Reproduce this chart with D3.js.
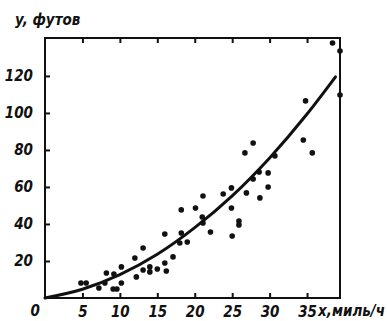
<!DOCTYPE html>
<html>
<meta charset="UTF-8">
<script src="https://d3js.org/d3.v7.min.js"></script>
<style>
  body { margin: 0; background: #fff; }
  text { font-family: "DejaVu Sans Condensed", "DejaVu Sans", sans-serif; font-style: italic; font-weight: bold; fill: #111; }
</style>
<body>
<div id="chart"></div>
<script>
// speed, miles/h
var speed = [4.8, 5.5, 7.2, 8.0, 8.2, 9.2, 9.1, 9.6, 10.2, 10.2,
             12.0, 12.2, 13.1, 13.1, 14.0, 14.0, 15.0, 16.0, 16.0, 16.2,
             17.1, 18.0, 18.2, 18.2, 19.0, 20.1, 21.0, 21.1, 21.1, 22.1,
             23.8, 24.9, 24.9, 25.0, 25.9, 25.9, 26.7, 26.9, 27.8, 27.8,
             28.6, 28.7, 29.8, 29.8, 30.7, 34.5, 35.7, 34.8, 38.4, 39.4, 39.4];
// distance, feet
var dist = [8.1, 8.1, 5.4, 8.1, 13.5, 13.0, 4.9, 4.9, 16.8, 8.1,
            21.6, 11.4, 27.0, 15.1, 16.8, 14.1, 15.7, 34.6, 18.9, 14.6,
            22.2, 29.7, 35.1, 47.6, 30.3, 48.6, 43.8, 40.5, 55.1, 35.7,
            56.2, 59.5, 48.6, 33.5, 41.6, 39.5, 78.4, 56.8, 83.8, 64.3,
            68.1, 54.1, 67.6, 60.0, 76.8, 85.4, 78.4, 106.5, 137.8, 133.5, 109.7];

// fitted curve
var curveX = [0, 5, 10, 15, 20, 25, 30, 35, 38.8];
var curveY = [0, 4.7, 12.6, 23.6, 38.0, 55.2, 75.7, 99.4, 119.5];

var xTicks = [5, 10, 15, 20, 25, 30, 35];
var yTicks = [20, 40, 60, 80, 100, 120];
var originLabel = "0";
var yTitle = "y, футов";
var xTitle = "x,миль/ч";

var W = 387, H = 321;
var svg = d3.select("#chart").append("svg")
    .attr("width", W).attr("height", H);

var x = d3.scaleLinear().domain([0, 39.4]).range([45, 340]);
var y = d3.scaleLinear().domain([0, 140.5]).range([298, 38]);

// ticks
svg.append("g").attr("transform", "translate(0," + y(0) + ")")
  .call(d3.axisBottom(x).tickValues(xTicks).tickSizeInner(-5).tickSizeOuter(0).tickPadding(8));
svg.append("g").attr("transform", "translate(0," + y(140.5) + ")")
  .call(d3.axisTop(x).tickValues(xTicks).tickSizeInner(-5).tickSizeOuter(0).tickFormat(""));
svg.append("g").attr("transform", "translate(" + x(0) + ",0)")
  .call(d3.axisLeft(y).tickValues(yTicks).tickSizeInner(-5).tickSizeOuter(0).tickPadding(12));

svg.selectAll(".domain").remove();
svg.selectAll(".tick line").attr("stroke", "#111").attr("stroke-width", 2);
svg.selectAll(".tick text").attr("font-size", 15)
  .style("font-family", "'DejaVu Sans Condensed', 'DejaVu Sans', sans-serif")
  .style("font-style", "italic").style("font-weight", "bold").attr("fill", "#111");

// frame
svg.append("rect")
  .attr("x", x(0)).attr("y", y(140.5))
  .attr("width", x(39.4) - x(0)).attr("height", y(0) - y(140.5))
  .attr("fill", "none").attr("stroke", "#111").attr("stroke-width", 2);

// curve
var line = d3.line()
  .x(function(d, i) { return x(curveX[i]); })
  .y(function(d, i) { return y(curveY[i]); })
  .curve(d3.curveMonotoneX);
svg.append("path").datum(curveX)
  .attr("d", line)
  .attr("fill", "none").attr("stroke", "#111").attr("stroke-width", 3)
  .attr("stroke-linecap", "round");

// points
svg.selectAll("circle.pt")
  .data(speed)
  .enter()
  .append("circle")
    .attr("class", "pt")
    .attr("cx", function(d) { return x(d); })
    .attr("cy", function(d, i) { return y(dist[i]); })
    .attr("r", 2.8)
    .attr("fill", "#111");

// labels
svg.append("text").attr("x", 40).attr("y", 316)
  .attr("text-anchor", "end").attr("font-size", 15).text(originLabel);
svg.append("text").attr("x", 15).attr("y", 25)
  .attr("font-size", 15).text(yTitle);
svg.append("text").attr("x", 385).attr("y", 316)
  .attr("text-anchor", "end").attr("font-size", 15).text(xTitle);
</script>
</body>
</html>
